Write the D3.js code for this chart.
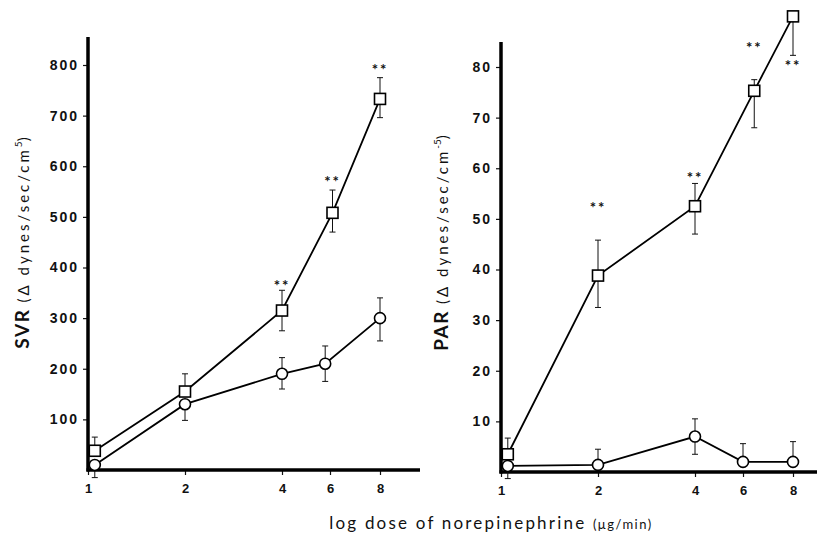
<!DOCTYPE html>
<html>
<head>
<meta charset="utf-8">
<script src="https://cdn.jsdelivr.net/npm/d3@7"></script>
<style>
  body { margin: 0; background: #fff; }
  svg { font-family: Lato, "DejaVu Sans", sans-serif; }
</style>
</head>
<body>
<div id="chart"></div>
<script>
// dose ticks (µg/min), printed axis is a hand-drawn log scale
const doseTicks = [1, 2, 4, 6, 8];

// SVR panel
const svrTicks = [100, 200, 300, 400, 500, 600, 700, 800];
const svrSquareDose = [1.07, 2, 4, 6.1, 8];
const svrSquare = [38, 155, 315, 508, 733];
const svrSquareErrUp = [27, 35, 40, 45, 42];
const svrSquareErrDown = [0, 0, 40, 38, 37];
const svrCircleDose = [1.07, 2, 4, 5.8, 8];
const svrCircle = [10, 130, 190, 210, 300];
const svrCircleErrUp = [0, 0, 32, 35, 40];
const svrCircleErrDown = [25, 32, 30, 35, 45];
const svrStarDose = [4, 6.1, 8];
const svrStarValue = [370, 575, 796];

// PAR panel
const parTicks = [10, 20, 30, 40, 50, 60, 70, 80];
const parSquareDose = [1.07, 2, 4, 6.45, 8];
const parSquare = [3.5, 38.8, 52.5, 75.3, 90];
const parSquareErrUp = [3.2, 7, 4.5, 2.2, 0];
const parSquareErrDown = [0, 6.3, 5.5, 7.3, 7.7];
const parCircleDose = [1.07, 2, 4, 6, 8];
const parCircle = [1.2, 1.4, 7, 2, 2];
const parCircleErrUp = [0, 3.1, 3.5, 3.6, 4];
const parCircleErrDown = [2.5, 0, 3.5, 0, 0];
const parStarDose = [2, 4, 6.45, 8];
const parStarValue = [52.8, 58.7, 84.4, 80.8];

const W = 829, H = 540;

const svg = d3.select('#chart')
    .append('svg')
    .attr('width', W)
    .attr('height', H);

function series(dose, val, up, down) {
    return dose.map((d, i) => ({ x: d, y: val[i], up: up[i], down: down[i] }));
}

function drawPanel(cfg) {
    const g = svg.append('g');

    // printed log axis: spacing of 4-6-8 is not a true log, so use a polylinear scale
    const xScale = d3.scaleLinear()
        .domain(doseTicks)
        .range([0, 97, 194, 242, 292].map(v => v + cfg.left));
    const yScale = d3.scaleLinear()
        .domain([0, cfg.yMax])
        .range([cfg.bottom, cfg.top]);

    // axes
    const yAxis = g.append('g')
        .attr('transform', `translate(${cfg.left}, 0)`)
        .call(d3.axisLeft(yScale).tickValues(cfg.ticks).tickSize(5).tickPadding(4));
    yAxis.select('.domain').remove();
    yAxis.selectAll('.tick line').attr('stroke', '#111').attr('stroke-width', 1.2);
    yAxis.selectAll('.tick text')
        .attr('font-size', 14)
        .attr('font-weight', 'bold')
        .attr('letter-spacing', 2)
        .attr('fill', '#111');

    const xAxis = g.append('g')
        .attr('transform', `translate(0, ${cfg.bottom})`)
        .call(d3.axisBottom(xScale).tickValues(doseTicks).tickSize(5).tickPadding(9).tickFormat(d3.format('d')));
    xAxis.select('.domain').remove();
    xAxis.selectAll('.tick line').attr('stroke', '#111').attr('stroke-width', 1.2);
    xAxis.selectAll('.tick text').attr('font-size', 13).attr('font-weight', 'bold').attr('fill', '#111');

    g.append('line')
        .attr('x1', cfg.left).attr('x2', cfg.left)
        .attr('y1', cfg.bottom + 1.5).attr('y2', cfg.axisTop)
        .attr('stroke', '#000').attr('stroke-width', 3.5);
    g.append('line')
        .attr('x1', cfg.left - 1.5).attr('x2', cfg.axisRight)
        .attr('y1', cfg.bottom).attr('y2', cfg.bottom)
        .attr('stroke', '#000').attr('stroke-width', 3.5);

    // y title
    const title = g.append('text')
        .attr('transform', `translate(${cfg.titleX}, ${cfg.titleY}) rotate(-90)`)
        .attr('text-anchor', 'middle')
        .attr('fill', '#111');
    title.append('tspan').attr('font-size', 19).attr('font-weight', 'bold').attr('letter-spacing', 1.5).text(cfg.name + ' ');
    title.append('tspan').attr('font-size', 15).attr('letter-spacing', 3).text('(Δ dynes/sec/cm');
    title.append('tspan').attr('font-size', 10).attr('dy', -7).text(cfg.power);
    title.append('tspan').attr('font-size', 15).attr('dy', 7).text(')');

    const line = d3.line().x(d => xScale(d.x)).y(d => yScale(d.y));

    [cfg.circles, cfg.squares].forEach((data, k) => {
        // error bars
        const err = g.append('g').attr('stroke', '#111').attr('stroke-width', 1);
        data.forEach(d => {
            const x = xScale(d.x);
            if (d.up > 0) {
                err.append('line').attr('x1', x).attr('x2', x).attr('y1', yScale(d.y)).attr('y2', yScale(d.y + d.up));
                err.append('line').attr('x1', x - 3).attr('x2', x + 3).attr('y1', yScale(d.y + d.up)).attr('y2', yScale(d.y + d.up));
            }
            if (d.down > 0) {
                err.append('line').attr('x1', x).attr('x2', x).attr('y1', yScale(d.y)).attr('y2', yScale(d.y - d.down));
                err.append('line').attr('x1', x - 3).attr('x2', x + 3).attr('y1', yScale(d.y - d.down)).attr('y2', yScale(d.y - d.down));
            }
        });

        g.append('path')
            .datum(data)
            .attr('fill', 'none')
            .attr('stroke', '#000')
            .attr('stroke-width', 1.8)
            .attr('d', line);

        if (k === 0) {
            g.selectAll(null)
                .data(data)
                .join('circle')
                .attr('cx', d => xScale(d.x))
                .attr('cy', d => yScale(d.y))
                .attr('r', 5.5)
                .attr('fill', '#fff')
                .attr('stroke', '#000')
                .attr('stroke-width', 1.6);
        } else {
            g.selectAll(null)
                .data(data)
                .join('rect')
                .attr('x', d => xScale(d.x) - 5.5)
                .attr('y', d => yScale(d.y) - 5.5)
                .attr('width', 11)
                .attr('height', 11)
                .attr('fill', '#fff')
                .attr('stroke', '#000')
                .attr('stroke-width', 1.6);
        }
    });

    // significance marks
    g.selectAll(null)
        .data(cfg.starDose.map((d, i) => ({ x: d, y: cfg.starValue[i] })))
        .join('text')
        .attr('x', d => xScale(d.x))
        .attr('y', d => yScale(d.y) + 8)
        .attr('text-anchor', 'middle')
        .attr('font-size', 15)
        .attr('font-weight', 'bold')
        .attr('letter-spacing', 2)
        .attr('fill', '#111')
        .text('**');
}

drawPanel({
    name: 'SVR', power: '5',
    left: 88, bottom: 470, top: 65, axisTop: 37, axisRight: 420, yMax: 800,
    ticks: svrTicks, titleX: 29, titleY: 243,
    squares: series(svrSquareDose, svrSquare, svrSquareErrUp, svrSquareErrDown),
    circles: series(svrCircleDose, svrCircle, svrCircleErrUp, svrCircleErrDown),
    starDose: svrStarDose, starValue: svrStarValue
});

drawPanel({
    name: 'PAR', power: '-5',
    left: 501, bottom: 472, top: 67, axisTop: 42, axisRight: 817, yMax: 80,
    ticks: parTicks, titleX: 448, titleY: 243,
    squares: series(parSquareDose, parSquare, parSquareErrUp, parSquareErrDown),
    circles: series(parCircleDose, parCircle, parCircleErrUp, parCircleErrDown),
    starDose: parStarDose, starValue: parStarValue
});

// shared x title
const xt = svg.append('text')
    .attr('x', 491)
    .attr('y', 529)
    .attr('text-anchor', 'middle')
    .attr('fill', '#111');
xt.append('tspan').attr('font-size', 17).attr('letter-spacing', 2.2).text('log dose of norepinephrine ');
xt.append('tspan').attr('font-size', 13).attr('letter-spacing', 1.5).text(' (μg/min)');
</script>
</body>
</html>
